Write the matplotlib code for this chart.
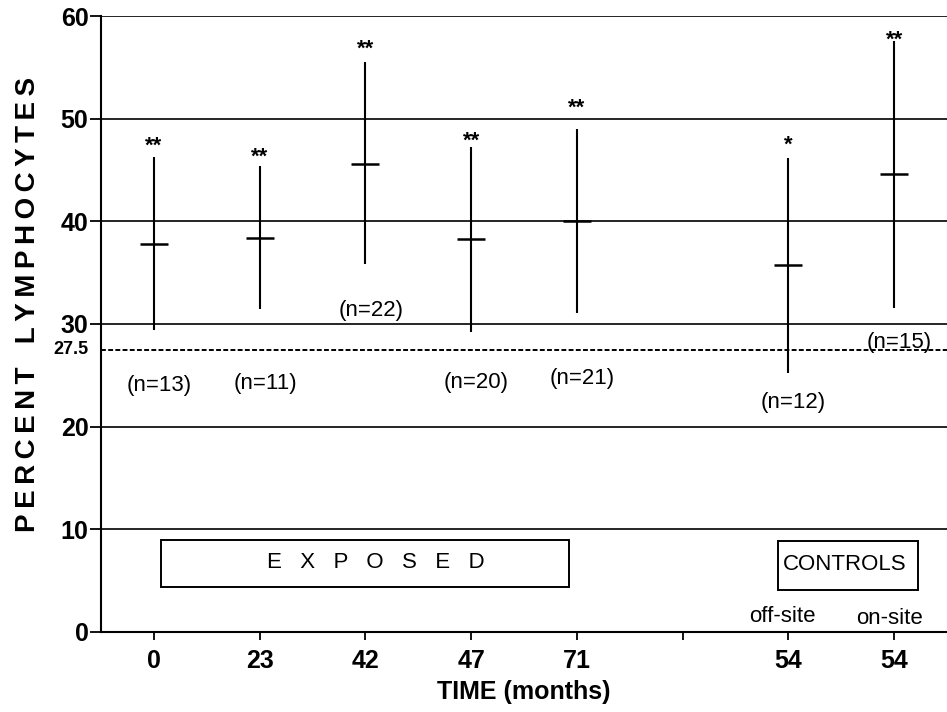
import matplotlib.pyplot as plt
from matplotlib.patches import Rectangle

plt.rcParams['font.family'] = ['Liberation Sans', 'DejaVu Sans']

# categorical slots along the time axis (slot 5 is an empty tick)
tick_labels = ['0', '23', '42', '47', '71', '', '54', '54']
slots = [0, 1, 2, 3, 4, 6, 7]

# mean and range of percent lymphocytes per group
means = [37.8, 38.4, 45.6, 38.3, 40.0, 35.7, 44.6]
highs = [46.3, 45.4, 55.5, 47.2, 49.0, 46.2, 57.6]
lows = [29.4, 31.5, 35.8, 29.2, 31.1, 25.2, 31.6]
stars = ['**', '**', '**', '**', '**', '*', '**']
star_y = [48.0, 46.9, 57.4, 48.5, 51.7, 48.1, 58.3]
n_counts = [13, 11, 22, 20, 21, 12, 15]
n_y = [24.0, 24.2, 31.3, 24.3, 24.7, 22.4, 28.2]
reference = 27.5

fig = plt.figure(figsize=(9.47, 7.12), dpi=100)
ax = fig.add_axes([0.1067, 0.1124, 0.8933, 0.8651])

# gridlines
for y in [10, 20, 30, 40, 50, 60]:
    ax.axhline(y, color='black', lw=1.2, zorder=1)
ax.axhline(reference, color='black', lw=1.4, ls=(0, (2.5, 1.2)), zorder=1)

# ranges and means
ax.vlines(slots, lows, highs, color='black', lw=1.5, zorder=3)
ax.plot(slots, means, ls='none', marker='_', ms=20, mew=1.8,
        color='black', zorder=3)

# significance stars (asterisk glyph sits high, so shift it down)
for x, s, sy in zip(slots, stars, star_y):
    ax.annotate(s, (x, sy), xytext=(0, -9), textcoords='offset points',
                ha='center', va='baseline', fontsize=16, fontweight='bold')
for x, n, ny in zip(slots, n_counts, n_y):
    ax.text(x + 0.05, ny, '(n=%d)' % n, ha='center', va='center',
            fontsize=16)

# group boxes
ax.add_patch(Rectangle((0.07, 4.4), 3.86, 4.6, fill=False, lw=1.4,
                       ec='black', zorder=2))
ax.text(2.1, 6.8, 'E   X   P   O   S   E   D', ha='center', va='center',
        fontsize=16)
ax.add_patch(Rectangle((5.9, 4.1), 1.33, 4.8, fill=False, lw=1.4,
                       ec='black', zorder=2))
ax.text(6.53, 6.6, 'CONTROLS', ha='center', va='center', fontsize=16)
ax.text(5.94, 1.5, 'off-site', ha='center', va='center', fontsize=16)
ax.text(6.96, 1.3, 'on-site', ha='center', va='center', fontsize=16)

ax.text(-0.615, reference, '27.5', ha='right', va='center', fontsize=13,
        fontweight='bold')

ax.set_xlim(-0.5, 7.5)
ax.set_ylim(0, 60)
ax.set_xticks(range(len(tick_labels)))
ax.set_xticklabels(tick_labels, fontsize=18, fontweight='bold')
ax.set_yticks([0, 10, 20, 30, 40, 50, 60])
ax.set_yticklabels(['0', '10', '20', '30', '40', '50', '60'], fontsize=18,
                   fontweight='bold')
ax.tick_params(axis='y', length=8, width=1.3, pad=1)
ax.tick_params(axis='x', length=6, width=1.3, pad=6)

ax.spines['top'].set_visible(False)
ax.spines['right'].set_visible(False)
ax.spines['left'].set_linewidth(1.5)
ax.spines['bottom'].set_linewidth(1.5)

ax.set_xlabel('TIME (months)', fontsize=18, fontweight='bold', labelpad=5)
ylab = '\u2009'.join('PERCENT') + '   ' + '\u2009'.join('LYMPHOCYTES')
ax.set_ylabel(ylab, fontsize=20, fontweight='bold')
ax.yaxis.set_label_coords(-0.071, 0.531)

fig.savefig('out.png', dpi=100)
